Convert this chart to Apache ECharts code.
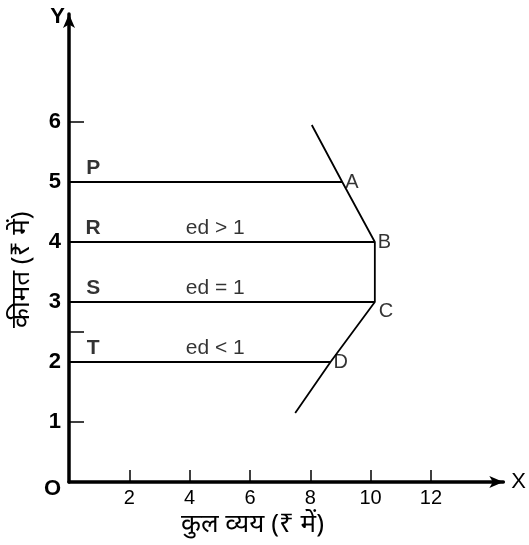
<!DOCTYPE html>
<html>
<head>
<meta charset="utf-8">
<script src="https://cdn.jsdelivr.net/npm/echarts@6/dist/echarts.min.js"></script>
<style>
  html, body { margin: 0; padding: 0; background: #fff; }
  #main { width: 529px; height: 545px; }
</style>
</head>
<body>
<div id="main"></div>
<script>
// values
const priceValues = [5, 4, 3, 2]
const priceNames = ['P', 'R', 'S', 'T']
const elasticityText = ['', 'ed > 1', 'ed = 1', 'ed < 1']
const pointNames = ['A', 'B', 'C', 'D']
const pointX = [9.06, 10.14, 10.14, 8.67]
// total expenditure curve, top to bottom
const curveX = [8.05, 9.06, 10.14, 10.14, 8.67, 7.5]
const curveY = [5.95, 5, 4, 3, 2, 1.15]
const xTicks = [2, 4, 6, 8, 10, 12]
const yTicks = [0, 1, 2, 3, 4, 5, 6]
const yTickMarks = [1, 2.5, 6]

const ink = '#000'
const font = '"Liberation Sans", Arial, sans-serif'
const hindiFont = '26px "Noto Sans", sans-serif'

const chart = echarts.init(document.getElementById('main'))

const levelLines = priceValues.map((p, i) => ({
  type: 'line',
  data: [[0, p], [pointX[i], p]],
  symbol: 'none',
  silent: true,
  lineStyle: { color: ink, width: 1.8 },
}))

const option = {
  animation: false,
  grid: { left: 69, right: 18, top: 14, bottom: 63 },
  xAxis: {
    type: 'value',
    min: 0,
    max: 14.4,
    name: 'X',
    nameLocation: 'end',
    nameGap: 8,
    nameTextStyle: { color: ink, fontSize: 22, fontFamily: font, verticalAlign: 'middle', align: 'left' },
    axisLine: { lineStyle: { color: ink, width: 3.5 }, symbol: ['none', 'arrow'], symbolSize: [9, 14] },
    axisTick: { show: true, inside: true, length: 12, lineStyle: { color: ink, width: 1.5 }, customValues: xTicks },
    axisLabel: { color: ink, fontSize: 20, fontFamily: font, margin: 6, customValues: xTicks },
    splitLine: { show: false },
  },
  yAxis: {
    type: 'value',
    min: 0,
    max: 7.8,
    name: 'Y',
    nameLocation: 'end',
    nameGap: -3,
    nameTextStyle: { color: ink, fontSize: 22, fontWeight: 'bold', fontFamily: font, align: 'right', verticalAlign: 'middle', padding: [0, 4, 0, 0] },
    axisLine: { lineStyle: { color: ink, width: 3.5 }, symbol: ['none', 'arrow'], symbolSize: [9, 14] },
    axisTick: { show: true, inside: true, length: 15, lineStyle: { color: ink, width: 1.5 }, customValues: yTickMarks },
    axisLabel: {
      color: ink, fontSize: 22, fontWeight: 'bold', fontFamily: font, margin: 8,
      customValues: yTicks,
      formatter: v => (v === 0 ? '{o|O}' : String(v)),
      rich: { o: { fontSize: 22, fontWeight: 'bold', fontFamily: font, color: ink, padding: [14, 0, 0, 0] } },
    },
    splitLine: { show: false },
  },
  graphic: [
    {
      type: 'text',
      left: 181,
      top: 512,
      style: { text: 'कुल व्यय (₹ में)', fill: ink, font: hindiFont },
    },
    {
      type: 'text',
      x: 9,
      y: 328,
      rotation: Math.PI / 2,
      originX: 0,
      originY: 0,
      style: { text: 'कीमत (₹ में)', fill: ink, font: hindiFont, verticalAlign: 'top' },
    },
  ],
  series: [
    ...levelLines,
    {
      type: 'line',
      data: curveX.map((x, i) => [x, curveY[i]]),
      symbol: 'none',
      silent: true,
      lineStyle: { color: ink, width: 1.8 },
    },
    {
      type: 'scatter',
      symbolSize: 0,
      silent: true,
      data: pointNames.map((n, i) => ({
        value: [pointX[i], priceValues[i]],
        name: n,
        label: n === 'C' ? { offset: [1, 9] } : {},
      })),
      label: { show: true, position: 'right', distance: 3, formatter: p => p.name, color: ink, fontSize: 20, fontFamily: font },
    },
    {
      type: 'scatter',
      symbolSize: 0,
      silent: true,
      data: priceNames.map((n, i) => ({ value: [0.8, priceValues[i]], name: n })),
      label: { show: true, position: 'top', distance: 3, formatter: p => p.name, color: ink, fontSize: 21, fontWeight: 'bold', fontFamily: font },
    },
    {
      type: 'scatter',
      symbolSize: 0,
      silent: true,
      data: elasticityText.map((t, i) => ({ value: [4.85, priceValues[i]], name: t })).filter(d => d.name),
      label: { show: true, position: 'top', distance: 3, formatter: p => p.name, color: ink, fontSize: 21, fontFamily: font },
    },
  ],
}

chart.setOption(option)
</script>
</body>
</html>
